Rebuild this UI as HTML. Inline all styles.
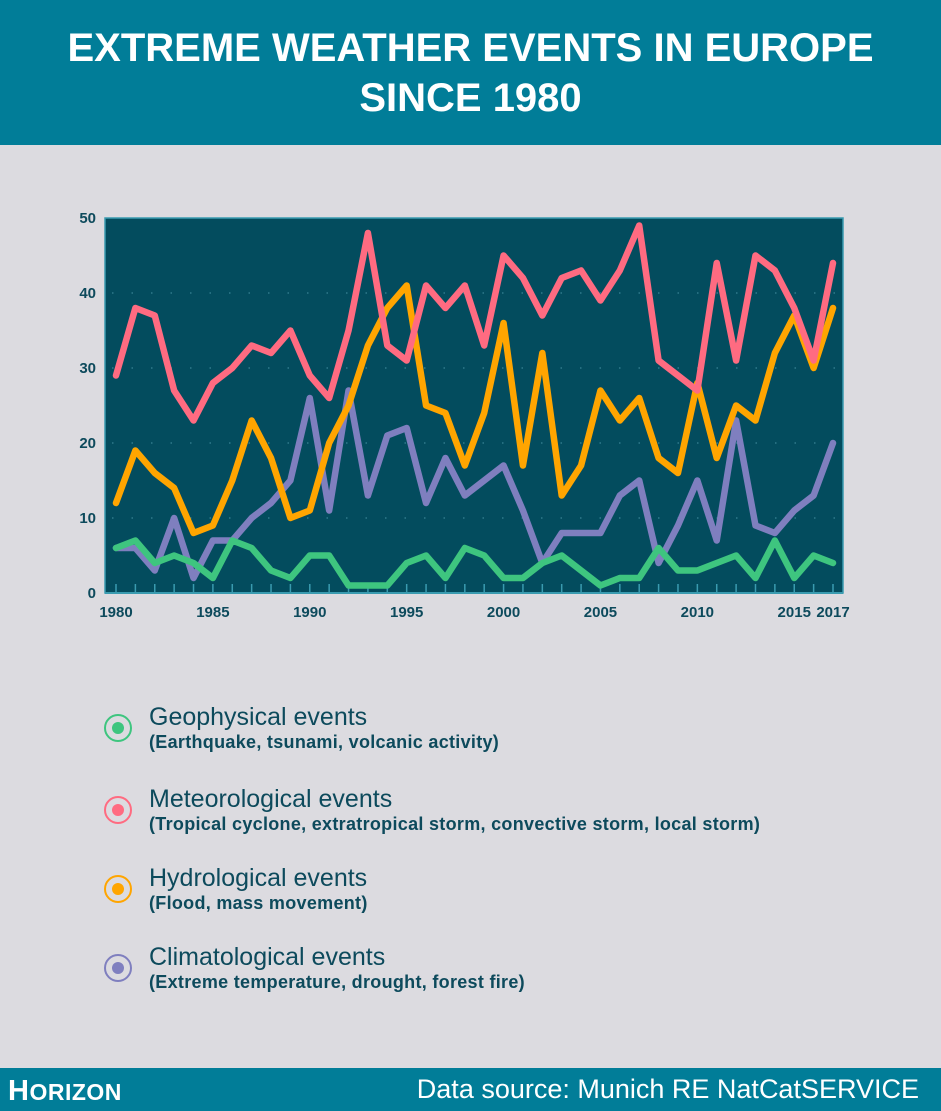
<!DOCTYPE html>
<html><head><meta charset="utf-8"><style>
body{margin:0;width:941px;height:1111px;background:#dcdbe0;font-family:"Liberation Sans",sans-serif;position:relative;overflow:hidden}
#hdr{position:absolute;left:0;top:0;width:941px;height:145px;background:#017d98;color:#fff;text-align:center;font-weight:bold;font-size:40px;line-height:50px;padding-top:23px;box-sizing:border-box}
#ftr{position:absolute;left:0;top:1068px;width:941px;height:43px;background:#017d98;color:#fff}
.leg{position:absolute;left:104px;color:#0d4a5c}
.leg .c{position:absolute;left:0;top:8px;width:28px;height:28px;border-radius:50%;box-sizing:border-box;border:2px solid}
.leg .c i{position:absolute;left:6px;top:6px;width:12px;height:12px;border-radius:50%}
.leg .t{position:absolute;left:45px;top:-3px;white-space:nowrap;font-size:25px}
.leg .s{position:absolute;left:45px;top:26px;white-space:nowrap;font-size:18px;font-weight:bold;letter-spacing:0.3px}
</style></head><body>
<div id="hdr">EXTREME WEATHER EVENTS IN EUROPE<br>SINCE 1980</div>
<svg id="chart" width="941" height="660" style="position:absolute;left:0;top:0"></svg>
<div class="leg" style="top:706px"><div class="c" style="border-color:#3ec57f"><i style="background:#3ec57f"></i></div><div class="t">Geophysical events</div><div class="s">(Earthquake, tsunami, volcanic activity)</div></div>
<div class="leg" style="top:788px"><div class="c" style="border-color:#ff6b81"><i style="background:#ff6b81"></i></div><div class="t">Meteorological events</div><div class="s">(Tropical cyclone, extratropical storm, convective storm, local storm)</div></div>
<div class="leg" style="top:867px"><div class="c" style="border-color:#ffa500"><i style="background:#ffa500"></i></div><div class="t">Hydrological events</div><div class="s">(Flood, mass movement)</div></div>
<div class="leg" style="top:946px"><div class="c" style="border-color:#7f7fbf"><i style="background:#7f7fbf"></i></div><div class="t">Climatological events</div><div class="s">(Extreme temperature, drought, forest fire)</div></div>
<div id="ftr">
<div style="position:absolute;left:8px;top:7px;font-weight:bold;font-size:29px;letter-spacing:0.5px">H<span style="font-size:23px">ORIZON</span></div>
<div style="position:absolute;right:22px;top:6px;font-size:27px">Data source: Munich RE NatCatSERVICE</div>
</div>
<script>
const years=[1980,1981,1982,1983,1984,1985,1986,1987,1988,1989,1990,1991,1992,1993,1994,1995,1996,1997,1998,1999,2000,2001,2002,2003,2004,2005,2006,2007,2008,2009,2010,2011,2012,2013,2014,2015,2016,2017];
const meteo=[29,38,37,27,23,28,30,33,32,35,29,26,35,48,33,31,41,38,41,33,45,42,37,42,43,39,43,49,31,29,27,44,31,45,43,38,31,44];
const hydro=[12,19,16,14,8,9,15,23,18,10,11,20,25,33,38,41,25,24,17,24,36,17,32,13,17,27,23,26,18,16,28,18,25,23,32,37,30,38];
const clim=[6,6,3,10,2,7,7,10,12,15,26,11,27,13,21,22,12,18,13,15,17,11,4,8,8,8,13,15,4,9,15,7,23,9,8,11,13,20];
const geo=[6,7,4,5,4,2,7,6,3,2,5,5,1,1,1,4,5,2,6,5,2,2,4,5,3,1,2,2,6,3,3,4,5,2,7,2,5,4];
const yTicks=[0,10,20,30,40,50];
const xLabels=[1980,1985,1990,1995,2000,2005,2010,2015,2017];
const NS='http://www.w3.org/2000/svg',svg=document.getElementById('chart');
const X=y=>116+(y-1980)*(833-116)/37, Y=v=>593-v*7.5;
function mk(t,a){const e=document.createElementNS(NS,t);for(const k in a)e.setAttribute(k,a[k]);svg.appendChild(e);return e;}
let r=mk('rect',{x:105,y:218,width:738,height:375,fill:'#034c5e',stroke:'#3a9bb0','stroke-width':1.5});


yTicks.forEach(v=>{
  if(v>0&&v<50){let g=mk('line',{x1:112,x2:840,y1:Y(v),y2:Y(v),stroke:'#2f7a8b','stroke-width':1.5,'stroke-dasharray':'1.5 18'});
  
  }
  let t=mk('text',{x:96,y:Y(v)+5,'text-anchor':'end','font-size':15,'font-weight':'bold',fill:'#0d4a5c'});t.textContent=v;
  
  
});
years.forEach(y=>{let l=mk('line',{x1:X(y),x2:X(y),y1:584,y2:593,stroke:'#3a9bb0','stroke-width':1.5});
  
  });
mk('line',{x1:105,x2:843,y1:593,y2:593,stroke:'#3a9bb0','stroke-width':2});
xLabels.forEach(y=>{let t=mk('text',{x:X(y),y:617,'text-anchor':'middle','font-size':15,'font-weight':'bold',fill:'#0d4a5c'});t.textContent=y;
  
  });
function line(d,c,n){let p=mk('polyline',{points:d.map((v,i)=>X(years[i])+','+Y(v)).join(' '),fill:'none',stroke:c,'stroke-width':6.5,'stroke-linejoin':'round','stroke-linecap':'round'});
  
  }
line(clim,'#7f7fbf','climatological-line');
line(geo,'#3ec57f','geophysical-line');
line(hydro,'#ffa500','hydrological-line');
line(meteo,'#ff6b81','meteorological-line');
</script>
</body></html>
